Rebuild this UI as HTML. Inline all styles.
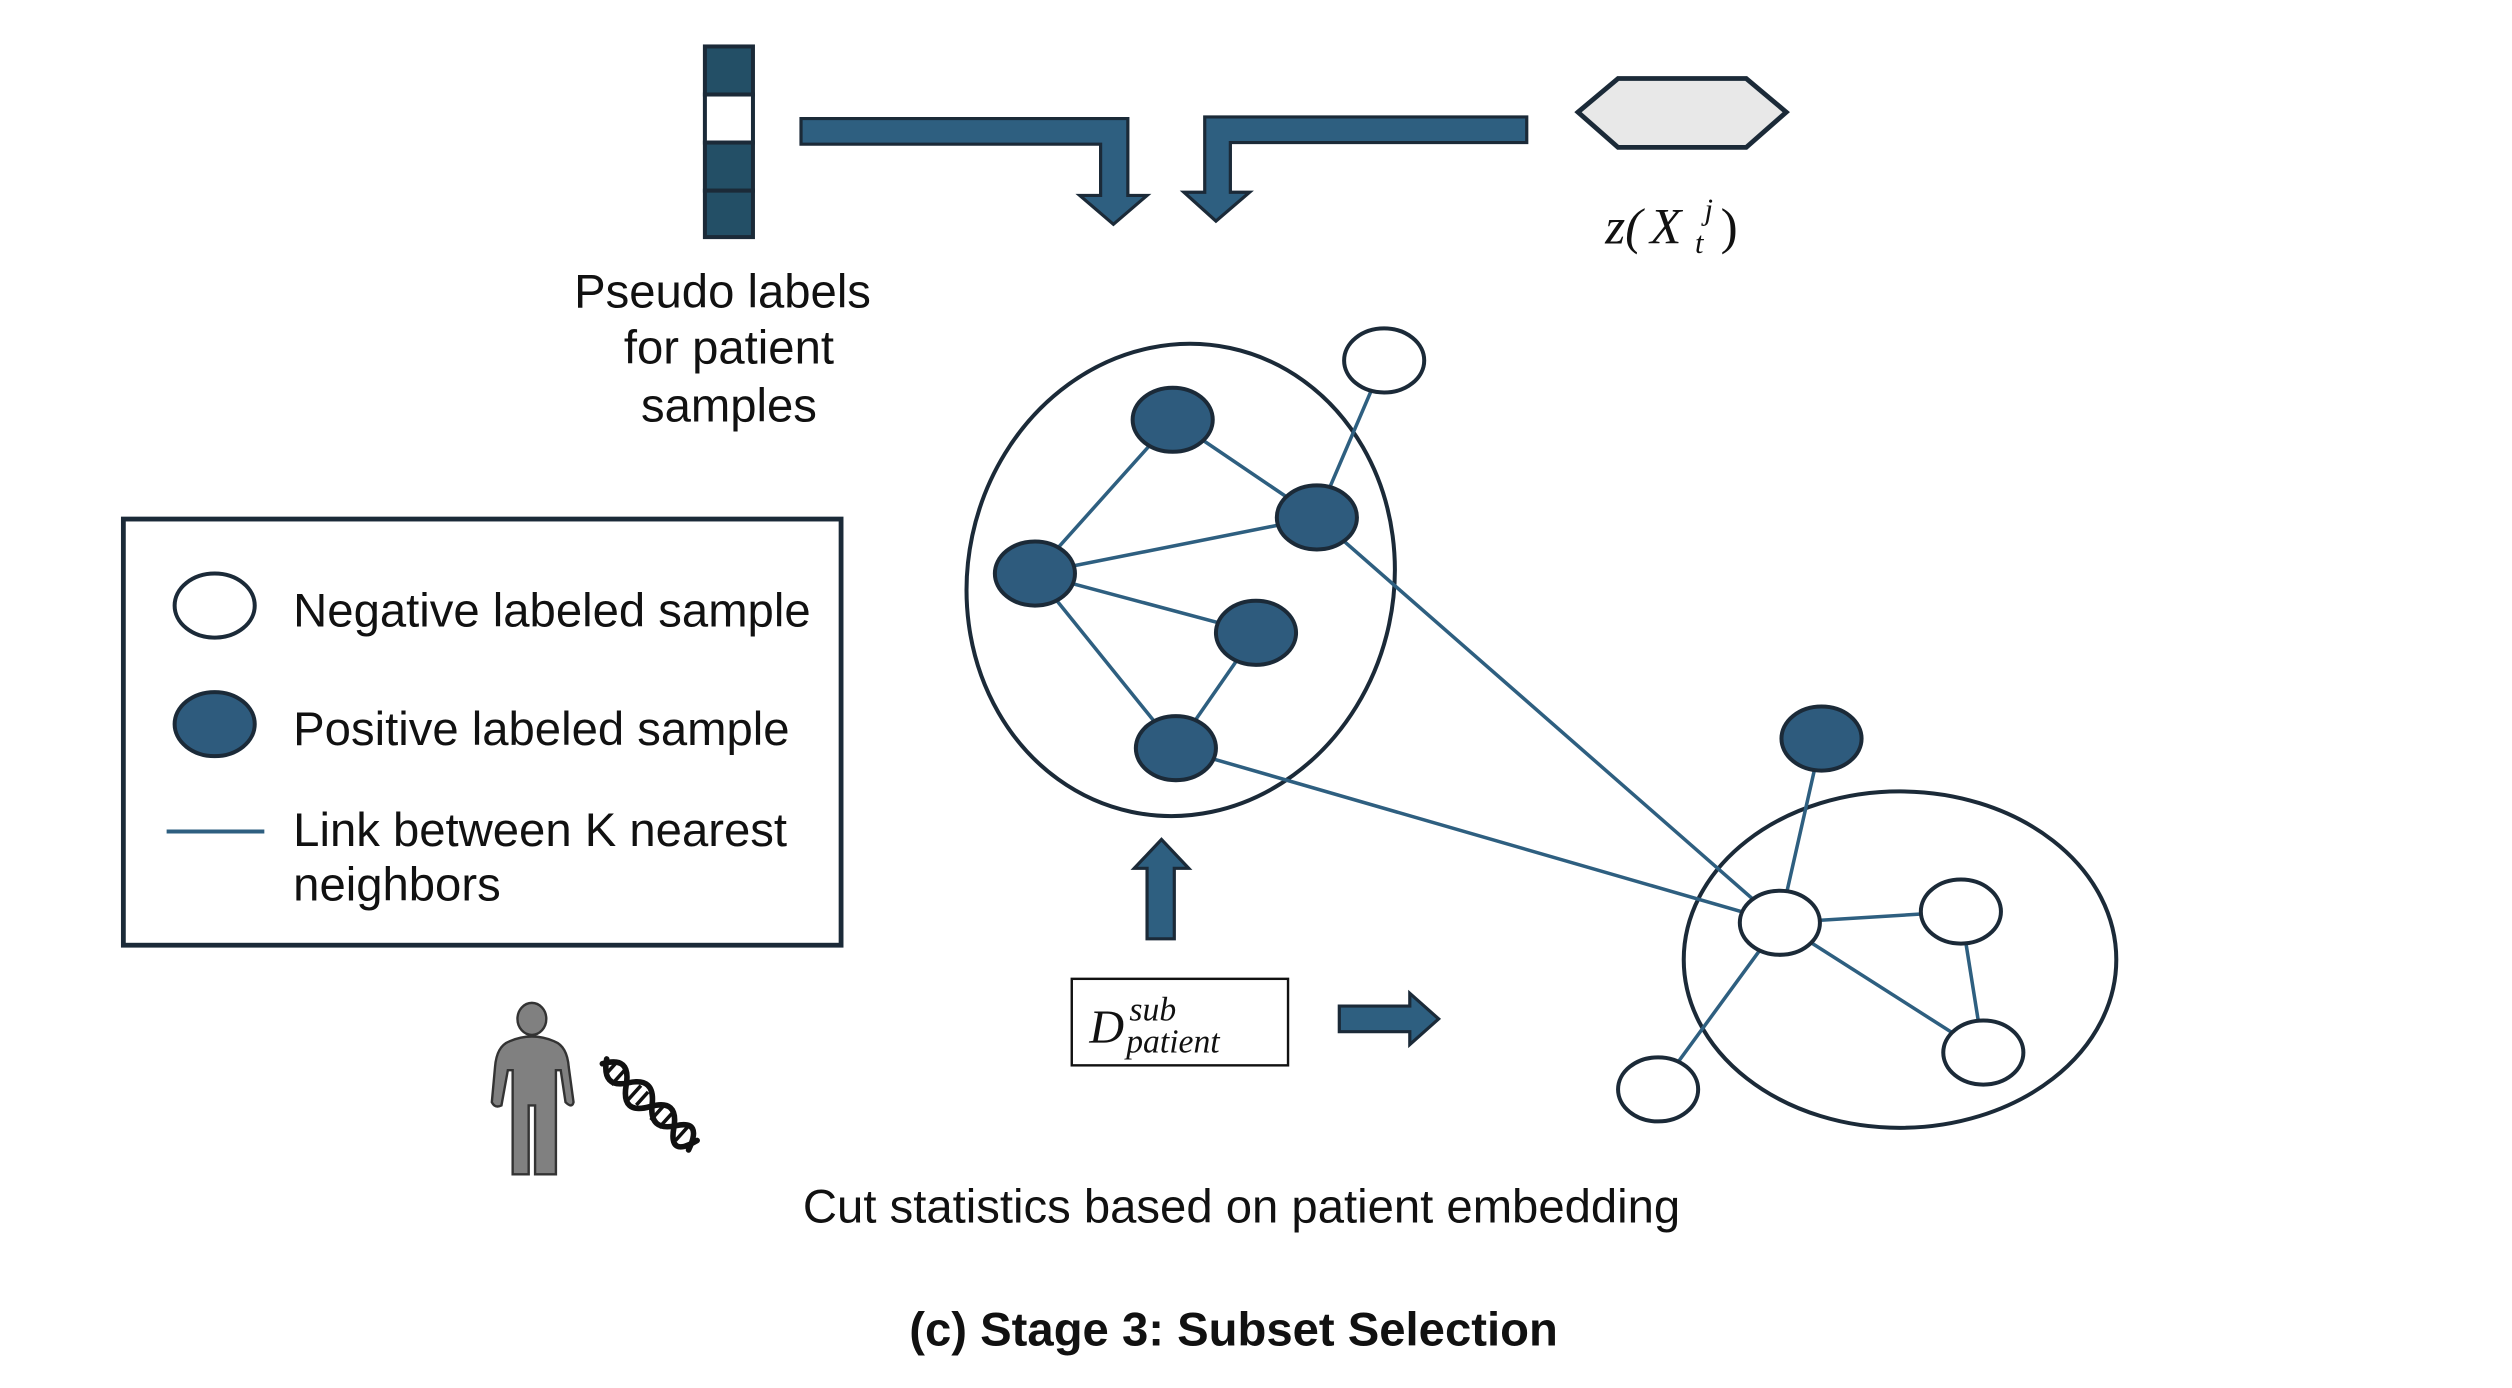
<!DOCTYPE html>
<html><head><meta charset="utf-8"><style>html,body{margin:0;padding:0;background:#fff}svg{display:block}</style></head>
<body>
<svg width="2512" height="1388" viewBox="0 0 1568 866.4" xmlns="http://www.w3.org/2000/svg" font-family="Liberation Sans, sans-serif">
<rect width="1568" height="867" fill="#fff"/>
<!-- label bar -->
<g stroke="#1b2a38" stroke-width="2.5">
<rect x="440" y="29" width="30" height="30" fill="#234f66"/>
<rect x="440" y="59" width="30" height="30" fill="#fff"/>
<rect x="440" y="89" width="30" height="30" fill="#234f66"/>
<rect x="440" y="119" width="30" height="29" fill="#234f66"/>
</g>
<!-- bent arrows -->
<path d="M500,74 L704,74 L704,122 L716,122 L695,140 L674,122 L687,122 L687,90 L500,90 Z" fill="#2e5f80" stroke="#1b2a38" stroke-width="2"/>
<path d="M953,73 L752,73 L752,120 L739,120 L759,138 L780,120 L768,120 L768,89 L953,89 Z" fill="#2e5f80" stroke="#1b2a38" stroke-width="2"/>
<!-- hexagon -->
<polygon points="985,70 1010,49 1090,49 1115,70 1090,92 1010,92" fill="#e8e8e8" stroke="#1b2a38" stroke-width="3"/>
<g font-family="Liberation Serif, serif" font-style="italic" fill="#111">
<text x="1002" y="152" font-size="32">z(</text>
<text x="1030" y="152" font-size="32">X</text>
<text x="1064" y="137" font-size="19">j</text>
<text x="1058" y="158" font-size="19">t</text>
<text x="1074" y="152" font-size="32" font-style="normal">)</text>
</g>
<!-- pseudo labels text -->
<g font-size="29.5" text-anchor="middle" fill="#111">
<text x="451" y="192">Pseudo labels</text>
<text x="455" y="227">for patient</text>
<text x="455" y="263">samples</text>
</g>
<!-- legend -->
<rect x="77" y="324" width="448" height="266" fill="none" stroke="#1b2a38" stroke-width="3"/>
<ellipse cx="134" cy="378" rx="25" ry="20" fill="#fff" stroke="#1b2a38" stroke-width="2.5"/>
<ellipse cx="134" cy="452" rx="25" ry="20" fill="#2e5b7d" stroke="#1b2a38" stroke-width="2.5"/>
<line x1="104" y1="519" x2="165" y2="519" stroke="#2e5f80" stroke-width="2.5"/>
<g font-size="29.5" fill="#111">
<text x="183" y="391">Negative labeled sample</text>
<text x="183" y="465">Positive labeled sample</text>
<text x="183" y="528">Link between K nearest</text>
<text x="183" y="562">neighbors</text>
</g>
<!-- big ellipses -->
<ellipse cx="737" cy="362" rx="133" ry="148" fill="none" stroke="#1b2a38" stroke-width="2.5" transform="rotate(12 737 362)"/>
<ellipse cx="1186" cy="599" rx="135" ry="105" fill="none" stroke="#1b2a38" stroke-width="2.5"/>
<!-- edges -->
<g stroke="#2e5f80" stroke-width="2.2">
<line x1="732" y1="262" x2="822" y2="323"/>
<line x1="646" y1="358" x2="732" y2="262"/>
<line x1="646" y1="358" x2="822" y2="323"/>
<line x1="646" y1="358" x2="784" y2="395"/>
<line x1="646" y1="358" x2="734" y2="467"/>
<line x1="784" y1="395" x2="734" y2="467"/>
<line x1="822" y1="323" x2="864" y2="225"/>
<line x1="822" y1="323" x2="1111" y2="576"/>
<line x1="734" y1="467" x2="1111" y2="576"/>
<line x1="1111" y1="576" x2="1137" y2="461"/>
<line x1="1111" y1="576" x2="1224" y2="569"/>
<line x1="1111" y1="576" x2="1238" y2="657"/>
<line x1="1224" y1="569" x2="1238" y2="657"/>
<line x1="1111" y1="576" x2="1035" y2="680"/>
</g>
<!-- nodes -->
<g stroke="#1b2a38" stroke-width="2.5">
<g fill="#2e5b7d">
<ellipse cx="732" cy="262" rx="25" ry="20"/>
<ellipse cx="822" cy="323" rx="25" ry="20"/>
<ellipse cx="646" cy="358" rx="25" ry="20"/>
<ellipse cx="784" cy="395" rx="25" ry="20"/>
<ellipse cx="734" cy="467" rx="25" ry="20"/>
<ellipse cx="1137" cy="461" rx="25" ry="20"/>
</g>
<g fill="#fff">
<ellipse cx="864" cy="225" rx="25" ry="20"/>
<ellipse cx="1111" cy="576" rx="25" ry="20"/>
<ellipse cx="1224" cy="569" rx="25" ry="20"/>
<ellipse cx="1238" cy="657" rx="25" ry="20"/>
<ellipse cx="1035" cy="680" rx="25" ry="20"/>
</g>
</g>
<!-- up arrow -->
<path d="M716,586 L716,542 L708,542 L725,524 L742,542 L733,542 L733,586 Z" fill="#2e5f80" stroke="#1b2a38" stroke-width="2"/>
<!-- D box -->
<rect x="669" y="611" width="135" height="54" fill="#fff" stroke="#111" stroke-width="1.5"/>
<g font-family="Liberation Serif, serif" font-style="italic" fill="#111">
<text x="680" y="651" font-size="30">D</text>
<text x="705" y="637" font-size="21">sub</text>
<text x="703" y="657" font-size="21">patient</text>
</g>
<!-- right arrow -->
<path d="M836,628 L880,628 L880,620 L898,636 L880,652 L880,644 L836,644 Z" fill="#2e5f80" stroke="#1b2a38" stroke-width="2"/>
<!-- person -->
<g fill="#808080" stroke="#333" stroke-width="1.5">
<ellipse cx="332" cy="636" rx="9" ry="10"/>
<path d="M318,650 Q332,644 346,650 Q354,653 355,666 L358,688 Q357,692 353,688 L350,668 L347,668 L347,733 L334,733 L334,690 L330,690 L330,733 L320,733 L320,668 L317,668 L313,690 Q309,692 307,688 L309,666 Q310,653 318,650 Z"/>
</g>
<!-- DNA -->
<g transform="translate(376,664) rotate(42)">
<g fill="none" stroke="#111" stroke-width="3.5" stroke-linecap="round">
<path d="M0,0 Q10,-16 20,0 T40,0 T60,0 T76,-4"/>
<path d="M0,-4 Q10,12 20,-2 T40,-2 T60,-2 T76,4"/>
</g>
<g stroke="#111" stroke-width="2.2">
<line x1="6" y1="-6" x2="6" y2="4"/><line x1="13" y1="-8" x2="13" y2="6"/>
<line x1="27" y1="-6" x2="27" y2="6"/><line x1="33" y1="-6" x2="33" y2="5"/>
<line x1="46" y1="-7" x2="46" y2="6"/><line x1="53" y1="-6" x2="53" y2="6"/>
<line x1="66" y1="-6" x2="66" y2="5"/>
</g>
</g>
<!-- bottom text -->
<text x="775" y="763" font-size="29.5" text-anchor="middle" fill="#111">Cut statistics based on patient embedding</text>
<text x="770" y="840" font-size="29.5" font-weight="bold" text-anchor="middle" fill="#111">(c) Stage 3: Subset Selection</text>
</svg>
</body></html>
